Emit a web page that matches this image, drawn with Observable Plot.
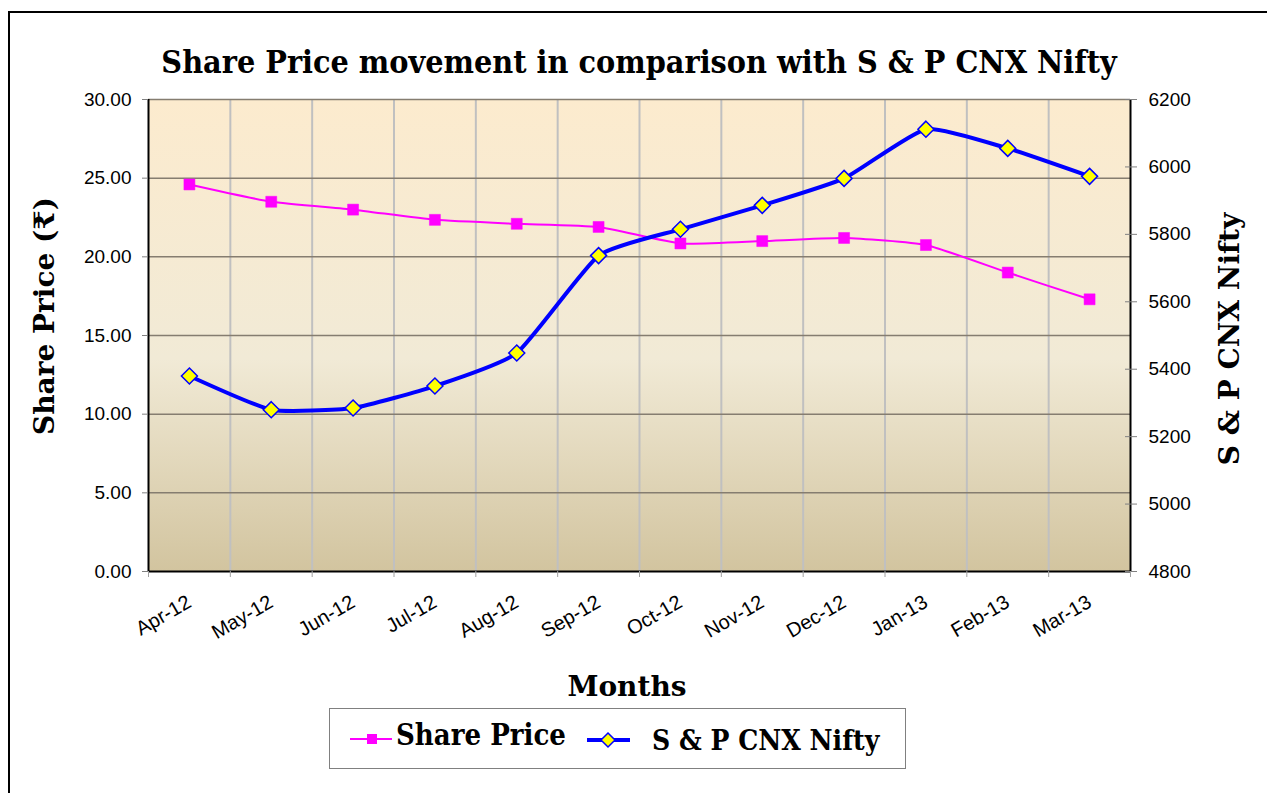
<!DOCTYPE html>
<html><head><meta charset="utf-8">
<script src="https://cdn.jsdelivr.net/npm/d3@7"></script>
<script src="https://cdn.jsdelivr.net/npm/@observablehq/plot@0.6"></script>
<style>
body{margin:0;background:#fff;}
#chart{position:relative;width:1267px;height:793px;overflow:hidden;}
#chart svg{display:block;}
</style>
</head><body><div id="chart"></div>
<script>
// ---- data ----
const months = ["Apr-12","May-12","Jun-12","Jul-12","Aug-12","Sep-12","Oct-12","Nov-12","Dec-12","Jan-13","Feb-13","Mar-13"];
const sharePrice = [24.6, 23.5, 23.0, 22.35, 22.1, 21.9, 20.85, 21.0, 21.2, 20.75, 19.0, 17.3];
const nifty = [5380, 5280, 5285, 5350, 5448, 5737, 5815, 5886, 5966, 6112, 6055, 5972];
const leftTicks = [0, 5, 10, 15, 20, 25, 30];
const rightTicks = [4800, 5000, 5200, 5400, 5600, 5800, 6000, 6200];

const titleText = "Share Price movement in comparison with S & P CNX Nifty";
const yLabelLeft = "Share Price (₹)";
const yLabelRight = "S & P CNX Nifty";
const xLabel = "Months";
const seriesNames = ["Share Price", "S & P CNX Nifty"];

// map nifty onto the left (share price) scale
const leftMin = leftTicks[0], leftMax = leftTicks[leftTicks.length - 1];
const rMin = rightTicks[0], rMax = rightTicks[rightTicks.length - 1];
const toLeft = v => leftMin + (v - rMin) / (rMax - rMin) * (leftMax - leftMin);
const fromLeft = y => rMin + (y - leftMin) / (leftMax - leftMin) * (rMax - rMin);

const idx = months.map((_, i) => i);
const boundaries = d3.range(-0.5, months.length, 1);
const shareData = idx.map(i => ({x: i, y: sharePrice[i]}));
const niftyData = idx.map(i => ({x: i, y: toLeft(nifty[i])}));

const W = 1267, H = 793;
const serif = "'DejaVu Serif', 'Liberation Serif', serif";
const sans = "'Liberation Sans', Arial, sans-serif";
const smooth = d3.curveCardinal.tension(0.5);

const chart = Plot.plot({
  width: W, height: H,
  marginLeft: 148, marginRight: 137, marginTop: 99, marginBottom: 222,
  x: {domain: [-0.5, months.length - 0.5], axis: null},
  y: {domain: [leftMin, leftMax], axis: null},
  style: {fontFamily: sans, background: "transparent", overflow: "visible"},
  marks: [
    Plot.frame({fill: "url(#bgGrad)", stroke: null}),
    Plot.ruleX(boundaries.slice(1, -1), {stroke: "#c0c0c0", strokeWidth: 2}),
    Plot.ruleY(leftTicks.slice(1), {stroke: "#857d70", strokeWidth: 1.5}),
    // axis lines
    Plot.ruleX([boundaries[0], boundaries[boundaries.length - 1]], {stroke: "#000", strokeWidth: 2}),
    Plot.ruleY([leftMin], {stroke: "#000", strokeWidth: 2}),
    // left axis
    Plot.axisY(leftTicks, {anchor: "left", label: null, tickSize: 6, tickPadding: 11, stroke: "#808080",
      tickFormat: d3.format(".2f"), fontSize: 19, fill: "#000"}),
    // right axis ticks (crossing) and labels
    Plot.axisY(rightTicks.map(toLeft), {anchor: "right", label: null, tickSize: 12, dx: -6, stroke: "#808080",
      tickFormat: () => ""}),
    Plot.axisY(rightTicks.map(toLeft), {anchor: "right", label: null, tickSize: 0, tickPadding: 18,
      tickFormat: d => d3.format("d")(Math.round(fromLeft(d))), fontSize: 19, fill: "#000"}),
    // bottom ticks at category boundaries
    Plot.axisX(boundaries, {anchor: "bottom", label: null, tickSize: 6, stroke: "#a0a0a0", tickFormat: () => ""}),
    // month labels
    Plot.text(idx, {x: d => d, y: leftMin, text: d => months[d], rotate: -30, textAnchor: "end",
      lineAnchor: "middle", dx: 0, dy: 29, fontSize: 20, fill: "#000"}),
    // share price series
    Plot.line(shareData, {x: "x", y: "y", stroke: "#ff00ff", strokeWidth: 2, curve: smooth}),
    Plot.dot(shareData, {x: "x", y: "y", symbol: "square", r: 6.2, fill: "#ff00ff", stroke: "#ff00ff", strokeWidth: 0.5}),
    // nifty series
    Plot.line(niftyData, {x: "x", y: "y", stroke: "#0000ff", strokeWidth: 4, curve: smooth}),
    Plot.dot(niftyData, {x: "x", y: "y", symbol: "diamond2", r: 7.2, fill: "#ffff00", stroke: "#0000ff", strokeWidth: 1.5})
  ]
});

const svg = d3.select(chart);
const defs = svg.insert("defs", ":first-child");
const grad = defs.append("linearGradient").attr("id", "bgGrad")
  .attr("x1", 0).attr("y1", 0).attr("x2", 0).attr("y2", 1);
grad.append("stop").attr("offset", "0%").attr("stop-color", "#fcebce");
grad.append("stop").attr("offset", "55%").attr("stop-color", "#f1ead6");
grad.append("stop").attr("offset", "100%").attr("stop-color", "#d2c49f");

// outer border
svg.insert("rect", "defs + *").attr("x", 9).attr("y", 12).attr("width", W + 20).attr("height", H + 20)
  .attr("fill", "#fff").attr("stroke", "#000").attr("stroke-width", 2);

const g = svg.append("g").attr("font-family", serif).attr("font-weight", "bold").attr("fill", "#000");
g.append("text").attr("x", 639).attr("y", 73).attr("text-anchor", "middle")
  .attr("font-size", 32).style("font-stretch", "condensed").text(titleText);
g.append("text").attr("transform", "translate(54,316) rotate(-90)").attr("text-anchor", "middle")
  .attr("font-size", 28).text(yLabelLeft);
g.append("text").attr("transform", "translate(1239,339) rotate(-90)").attr("text-anchor", "middle")
  .attr("font-size", 28).text(yLabelRight);
g.append("text").attr("x", 627).attr("y", 696).attr("text-anchor", "middle")
  .attr("font-size", 28).text(xLabel);

// legend
const lg = svg.append("g");
lg.append("rect").attr("x", 329.5).attr("y", 708.5).attr("width", 576).attr("height", 60)
  .attr("fill", "#fff").attr("stroke", "#808080").attr("stroke-width", 1);
lg.append("line").attr("x1", 350).attr("x2", 392).attr("y1", 739).attr("y2", 739)
  .attr("stroke", "#ff00ff").attr("stroke-width", 2);
lg.append("rect").attr("x", 367).attr("y", 734).attr("width", 10).attr("height", 10).attr("fill", "#ff00ff");
lg.append("text").attr("x", 396).attr("y", 745).attr("text-anchor", "start").attr("font-family", serif)
  .attr("font-weight", "bold").attr("font-size", 29).style("font-stretch", "condensed").text(seriesNames[0]);
lg.append("line").attr("x1", 587).attr("x2", 630).attr("y1", 740).attr("y2", 740)
  .attr("stroke", "#0000ff").attr("stroke-width", 4);
lg.append("path").attr("d", "M608,733 L615,740 L608,747 L601,740 Z")
  .attr("fill", "#ffff00").attr("stroke", "#0000ff").attr("stroke-width", 1.5);
lg.append("text").attr("x", 652).attr("y", 750).attr("text-anchor", "start").attr("font-family", serif)
  .attr("font-weight", "bold").attr("font-size", 28).style("font-stretch", "condensed").text(seriesNames[1]);

document.getElementById("chart").appendChild(chart);
</script>
</body></html>
